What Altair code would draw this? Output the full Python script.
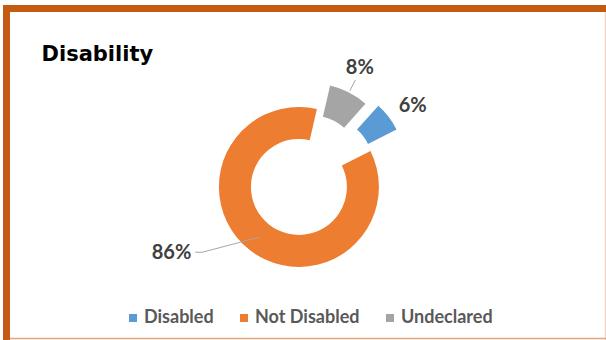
import math
import altair as alt
import pandas as pd

# ---- data ----
categories = ["Disabled", "Not Disabled", "Undeclared"]
values = [6, 86, 8]
label_texts = ["6%", "86%", "8%"]
colors = ["#5B9BD5", "#ED7D31", "#A5A5A5"]
draw_order = ["Undeclared", "Disabled", "Not Disabled"]

df = pd.DataFrame({
    "category": categories,
    "value": values,
    "label": label_texts,
    "order": [draw_order.index(c) for c in categories],
})
total = sum(values)

# ---- geometry / style ----
CX, CY = 302, 183
START = math.radians(13)
R_OUT, R_IN = 80, 48
EXPLODE = {"Undeclared": 22, "Disabled": 29, "Not Disabled": 5}
LABEL_COLOR = "#404040"
LEADER_COLOR = "#A6A6A6"

theta_scale = alt.Scale(domain=[0, total], range=[START, START + 2 * math.pi])
color_scale = alt.Scale(domain=categories, range=colors)
legend = alt.Legend(
    orient="none", legendX=124, legendY=309, direction="horizontal", title=None,
    symbolType="square", symbolSize=64, symbolStrokeWidth=0, labelFont="Lato",
    labelFontSize=18, labelFontWeight="bold", labelColor="#595959",
    columnPadding=21, labelOffset=2,
)

mids = {}
cum = 0
for c in draw_order:
    v = values[categories.index(c)]
    mids[c] = START + 2 * math.pi * (cum + v / 2) / total
    cum += v

base = alt.Chart(df).transform_stack(
    stack="value", groupby=[], as_=["v0", "v1"],
    sort=[alt.SortField("order", order="ascending")],
).transform_calculate(
    mid="(datum.v0 + datum.v1) / 2",
    ang=f"{START} + 2 * PI * ((datum.v0 + datum.v1) / 2) / {total}",
)

layers = []

# frame
dummy = alt.Chart(pd.DataFrame({"a": [0]}))
layers.append(dummy.mark_rule(color="#C55A11", strokeWidth=7).encode(
    x=alt.value(3), x2=alt.value(606), y=alt.value(8.5)))
layers.append(dummy.mark_rule(color="#C55A11", strokeWidth=7).encode(
    x=alt.value(6.5), y=alt.value(5), y2=alt.value(340)))
layers.append(dummy.mark_rule(color="#F2D4C4", strokeWidth=1.5).encode(
    x=alt.value(605.5), y=alt.value(12), y2=alt.value(340)))
layers.append(dummy.mark_rule(color="#E5A57C", strokeWidth=1.5).encode(
    x=alt.value(10), x2=alt.value(606), y=alt.value(338.5)))

# slices
for c in draw_order:
    e = EXPLODE[c]
    m = mids[c]
    ox, oy = e * math.sin(m), -e * math.cos(m)
    layers.append(
        base.transform_filter(alt.datum.category == c)
        .mark_arc(radius=R_OUT, radius2=R_IN, xOffset=ox, yOffset=oy)
        .encode(
            theta=alt.Theta("v0:Q", scale=theta_scale, stack=None),
            theta2="v1:Q",
            color=alt.Color("category:N", scale=color_scale, legend=legend),
            x=alt.value(CX), y=alt.value(CY),
        )
    )

# labels for the two small slices (polar placement)
for c, r, dx, dy in [("Undeclared", 130, -2, 0), ("Disabled", 133, 5, 4)]:
    layers.append(
        base.transform_filter(alt.datum.category == c)
        .mark_text(font="Lato", fontSize=20, fontWeight="bold", color=LABEL_COLOR,
                   align="center", baseline="middle", radius=r, xOffset=dx, yOffset=dy)
        .encode(
            theta=alt.Theta("mid:Q", scale=theta_scale, stack=None),
            text="label:N",
            x=alt.value(CX), y=alt.value(CY),
        )
    )

# leader for Undeclared (radial)
layers.append(
    base.transform_filter(alt.datum.category == "Undeclared")
    .transform_calculate(
        x1=f"{CX} + 104 * sin(datum.ang)", y1=f"{CY} - 104 * cos(datum.ang)",
        x2=f"{CX} + 116 * sin(datum.ang)", y2=f"{CY} - 116 * cos(datum.ang)",
    )
    .mark_rule(color=LEADER_COLOR, strokeWidth=1)
    .encode(
        x=alt.X("x1:Q", scale=None, axis=None), y=alt.Y("y1:Q", scale=None, axis=None),
        x2="x2:Q", y2="y2:Q",
    )
)

# leader + label for Not Disabled
big = base.transform_filter(alt.datum.category == "Not Disabled").transform_calculate(
    px=f"{CX} + 69 * sin(datum.ang)", py=f"{CY} - 69 * cos(datum.ang)",
).transform_calculate(
    qx="datum.px - 57", qy="datum.py + 15",
    rx="datum.px - 64", tx="datum.px - 68", ty="datum.py + 16",
)
layers.append(big.mark_rule(color=LEADER_COLOR, strokeWidth=1).encode(
    x=alt.X("px:Q", scale=None, axis=None), y=alt.Y("py:Q", scale=None, axis=None),
    x2="qx:Q", y2="qy:Q"))
layers.append(big.mark_rule(color=LEADER_COLOR, strokeWidth=1).encode(
    x=alt.X("qx:Q", scale=None, axis=None), y=alt.Y("qy:Q", scale=None, axis=None),
    x2="rx:Q"))
layers.append(big.mark_text(font="Lato", fontSize=20, fontWeight="bold", color=LABEL_COLOR,
                            align="right", baseline="middle").encode(
    x=alt.X("tx:Q", scale=None, axis=None), y=alt.Y("ty:Q", scale=None, axis=None),
    text="label:N"))

chart = alt.layer(*layers).properties(
    width=606, height=340,
    autosize=alt.AutoSizeParams(type="none"),
    padding=0,
    background="white",
    title=alt.Title("Disability", anchor="start", font="DejaVu Sans", fontSize=21,
                    fontWeight="bold", color="black", dx=42, dy=69),
).configure_view(stroke=None)

chart.save("out.html", embed_options={"renderer": "svg", "actions": False})
